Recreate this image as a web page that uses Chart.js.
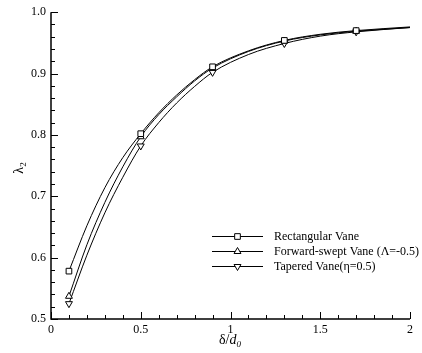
<!DOCTYPE html>
<html>
<head>
<meta charset="utf-8">
<script src="https://cdn.jsdelivr.net/npm/chart.js@4"></script>
<style>
  html, body { margin: 0; padding: 0; background: #fff; }
  #wrap { width: 422px; height: 353px; }
</style>
</head>
<body>
<div id="wrap"><canvas id="chart" width="422" height="353"></canvas></div>
<script>
// values
const xs = [0.1, 0.2, 0.3, 0.4, 0.5, 0.6, 0.7, 0.8, 0.9, 1.1, 1.3, 1.5, 1.7, 2.0];
const markerXs = [0.1, 0.5, 0.9, 1.3, 1.7];
const rectangular = [0.578, 0.652, 0.714, 0.763, 0.802, 0.836, 0.865, 0.890, 0.911, 0.937, 0.954, 0.964, 0.970, 0.976];
const forwardSwept = [0.537, 0.621, 0.690, 0.748, 0.797, 0.833, 0.862, 0.888, 0.909, 0.936, 0.953, 0.963, 0.969, 0.975];
const tapered = [0.525, 0.604, 0.673, 0.731, 0.782, 0.820, 0.852, 0.879, 0.902, 0.931, 0.949, 0.961, 0.968, 0.975];
const seriesNames = ['Rectangular Vane', 'Forward-swept Vane (\u039b=-0.5)', 'Tapered Vane(\u03b7=0.5)'];
const xTicks = [0, 0.5, 1, 1.5, 2];
const yTicks = [0.5, 0.6, 0.7, 0.8, 0.9, 1.0];

const SERIF = '"Liberation Serif", "DejaVu Serif", serif';
const MARK_R = 4;

function pts(vals) {
  return xs.map((x, i) => ({ x: x, y: vals[i] }));
}
function radii() {
  return xs.map(x => markerXs.some(m => Math.abs(m - x) < 1e-9) ? MARK_R : 0);
}

function ds(label, vals, style, rot) {
  return {
    label: label,
    data: pts(vals),
    borderColor: '#000',
    borderWidth: 1,
    backgroundColor: '#fff',
    pointStyle: style,
    rotation: rot,
    pointRadius: radii(),
    pointBorderWidth: 1,
    pointBorderColor: '#000',
    pointBackgroundColor: '#fff',
    cubicInterpolationMode: 'monotone',
    fill: false
  };
}

// inward ticks, axis lines, axis titles and legend
const decor = {
  id: 'decor',
  afterDraw(chart) {
    const c = chart.ctx;
    const a = chart.chartArea;
    const sx_ = chart.scales.x, sy_ = chart.scales.y;
    c.save();
    c.strokeStyle = '#000';
    c.lineWidth = 1.5;
    c.beginPath();
    c.moveTo(a.left, a.top);
    c.lineTo(a.left, a.bottom);
    c.lineTo(a.right, a.bottom);
    c.stroke();

    c.lineWidth = 1;
    c.beginPath();
    for (let i = 0; i <= 20; i++) {
      const px = Math.round(sx_.getPixelForValue(i * 0.1)) + 0.5;
      const len = i % 5 === 0 ? 7 : 4;
      c.moveTo(px, a.bottom);
      c.lineTo(px, a.bottom - len);
    }
    for (let i = 0; i <= 25; i++) {
      const py = Math.round(sy_.getPixelForValue(0.5 + i * 0.02)) + 0.5;
      const len = i % 5 === 0 ? 7 : 4;
      c.moveTo(a.left, py);
      c.lineTo(a.left + len, py);
    }
    c.stroke();

    // x title: δ/d0
    c.fillStyle = '#000';
    c.textBaseline = 'alphabetic';
    const t1 = '\u03b4/';
    c.font = '14px ' + SERIF;
    const w1 = c.measureText(t1).width;
    c.font = 'italic 14px ' + SERIF;
    const w2 = c.measureText('d').width;
    c.font = 'italic 9px ' + SERIF;
    const w3 = c.measureText('0').width;
    const sx = 230 - (w1 + w2 + w3) / 2;
    const by = 344;
    c.font = '14px ' + SERIF;
    c.fillText(t1, sx, by);
    c.font = 'italic 14px ' + SERIF;
    c.fillText('d', sx + w1, by);
    c.font = 'italic 9px ' + SERIF;
    c.fillText('0', sx + w1 + w2, by + 3);

    // y title: λ2, rotated
    c.save();
    c.translate(18, 168);
    c.rotate(-Math.PI / 2);
    c.font = '14px ' + SERIF;
    const wl = c.measureText('\u03bb').width;
    c.font = '9px ' + SERIF;
    const w4 = c.measureText('2').width;
    c.font = '14px ' + SERIF;
    c.fillText('\u03bb', -(wl + w4) / 2, 5);
    c.font = '9px ' + SERIF;
    c.fillText('2', -(wl + w4) / 2 + wl, 8);
    c.restore();

    // legend
    const rows = [236, 251, 266];
    c.font = '12px ' + SERIF;
    c.textBaseline = 'middle';
    chart.data.datasets.forEach((d, i) => {
      const y = rows[i] + 0.5;
      c.strokeStyle = '#000';
      c.lineWidth = 1;
      c.beginPath();
      c.moveTo(212, y);
      c.lineTo(263, y);
      c.stroke();
      c.fillStyle = '#fff';
      c.strokeStyle = '#000';
      Chart.helpers.drawPoint(c, {
        pointStyle: d.pointStyle,
        rotation: d.rotation,
        radius: MARK_R,
        borderWidth: 1
      }, 237.5, y);
      c.fillStyle = '#000';
      c.fillText(seriesNames[i], 274, rows[i] + 1);
    });
    c.restore();
  }
};

const ctx = document.getElementById('chart').getContext('2d');
new Chart(ctx, {
  type: 'line',
  data: {
    datasets: [
      ds(seriesNames[0], rectangular, 'rect', 0),
      ds(seriesNames[1], forwardSwept, 'triangle', 0),
      ds(seriesNames[2], tapered, 'triangle', 180)
    ]
  },
  options: {
    responsive: false,
    animation: false,
    layout: { padding: { left: 0, top: 11, right: 12, bottom: 0 } },
    plugins: {
      legend: { display: false },
      tooltip: { enabled: false }
    },
    scales: {
      x: {
        type: 'linear',
        min: 0,
        max: 2,
        grid: { display: false, drawTicks: false },
        border: { display: false },
        afterBuildTicks(s) { s.ticks = xTicks.map(v => ({ value: v })); },
        afterFit(s) { s.height = 34; },
        ticks: {
          padding: 4,
          color: '#000',
          font: { family: SERIF, size: 12 },
          maxRotation: 0,
          callback: v => String(v)
        }
      },
      y: {
        type: 'linear',
        min: 0.5,
        max: 1.0,
        grid: { display: false, drawTicks: false },
        border: { display: false },
        afterBuildTicks(s) { s.ticks = yTicks.map(v => ({ value: v })); },
        afterFit(s) { s.width = 51; },
        ticks: {
          padding: 5,
          color: '#000',
          font: { family: SERIF, size: 12 },
          callback: v => Number(v).toFixed(1)
        }
      }
    }
  },
  plugins: [decor]
});
</script>
</body>
</html>
